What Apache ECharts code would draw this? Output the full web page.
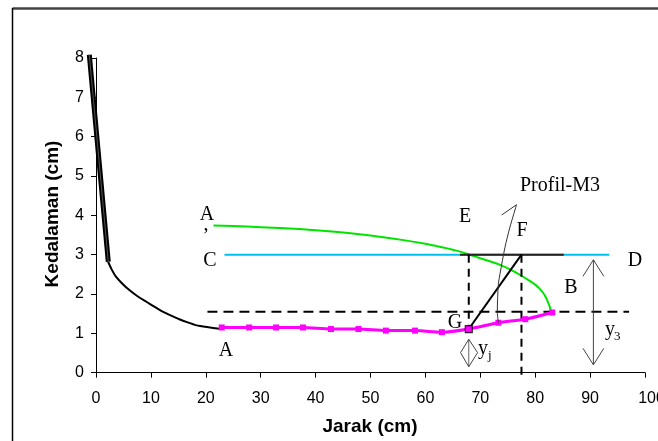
<!DOCTYPE html>
<html><head><meta charset="utf-8">
<script src="https://cdn.jsdelivr.net/npm/echarts@6/dist/echarts.min.js"></script>
<style>html,body{margin:0;padding:0;background:#fff}#c{width:658px;height:441px}</style>
</head><body><div id="c"></div>
<script>
// ---- data ----
const xTicks = [0, 10, 20, 30, 40, 50, 60, 70, 80, 90, 100];
const yTicks = [0, 1, 2, 3, 4, 5, 6, 7, 8];
const wallLine = [[-1.22, 8.08], [2.24, 2.82]];
const upstreamCurve = [[2.2, 2.82], [2.8, 2.64], [3.64, 2.44], [4.8, 2.26], [6.07, 2.10], [7.5, 1.95], [9.11, 1.81], [10.6, 1.68], [12.15, 1.55], [13.7, 1.45], [15.17, 1.36], [16.7, 1.28], [18.2, 1.21], [20.2, 1.16], [22.4, 1.12], [22.9, 1.13]];
const profilX = [22.9, 27.9, 32.8, 37.7, 42.8, 47.8, 52.8, 58.1, 63.0, 67.9, 73.3, 78.2, 83.1];
const profilY = [1.15, 1.15, 1.15, 1.15, 1.11, 1.11, 1.07, 1.07, 1.03, 1.11, 1.27, 1.36, 1.53];
const greenX = [21.4, 25, 30, 37, 43, 48, 52, 56, 60, 62, 64, 66, 67.2, 68.5, 70, 72, 73.6, 75.5, 77.2, 78.5, 79.7, 80.7, 81.5, 82, 82.4, 82.7, 82.8];
const greenY = [3.74, 3.73, 3.70, 3.65, 3.59, 3.52, 3.45, 3.37, 3.28, 3.22, 3.16, 3.09, 3.04, 2.98, 2.91, 2.82, 2.74, 2.62, 2.49, 2.38, 2.27, 2.15, 2.02, 1.90, 1.77, 1.66, 1.58];
const lineCD = [[23.4, 3.0], [93.5, 3.0]];
const lineEF = [[66.3, 3.0], [85.2, 3.0]];
const dashedY = [[20.3, 1.55], [97.1, 1.55]];
const dashE = [[67.9, 3.0], [67.9, 1.11]];
const dashF = [[77.5, 3.0], [77.5, -0.06]];
const lineGF = [[67.9, 1.11], [77.5, 3.0]];
const pointG = [[67.9, 1.11]];
const profilArrow = [[73.3, 1.27], [73.1, 1.55], [73.3, 2.26], [73.6, 2.52], [74.5, 3.19], [75.4, 3.70], [76.6, 4.27]];
const profilArrowHead = [[76.6, 4.27], [73.9, 4.01]];
const y3Shaft = [[90.6, 2.87], [90.6, 0.2]];
const y3HeadTop = [[88.7, 2.45], [90.6, 2.87], [92.5, 2.45]];
const y3HeadBottom = [[88.7, 0.62], [90.6, 0.2], [92.5, 0.62]];
const yjShaft = [[67.9, 0.85], [67.9, 0.15]];
const yjDiamond = [[67.9, 0.85], [66.4, 0.51], [67.9, 0.15], [69.5, 0.51], [67.9, 0.85]];
const labels = [
  {t: 'A', x: 207, y: 215}, {t: ',', x: 206, y: 225}, {t: 'C', x: 210, y: 261},
  {t: 'A', x: 226, y: 351}, {t: 'E', x: 465, y: 217}, {t: 'F', x: 522, y: 231},
  {t: 'Profil-M3', x: 560, y: 186}, {t: 'D', x: 635, y: 261}, {t: 'B', x: 571, y: 288},
  {t: 'G', x: 455, y: 323}
];

const zip = (xs, ys) => xs.map((x, i) => [x, ys[i]]);
const serif = '"Liberation Serif", "Times New Roman", serif';
const sans = '"Liberation Sans", Arial, sans-serif';

function seg(data, color, width, opts) {
  return Object.assign({
    type: 'line', data: data, showSymbol: false, symbol: 'none', clip: false,
    lineStyle: {color: color, width: width}, silent: true, animation: false
  }, opts || {});
}

const chart = echarts.init(document.getElementById('c'), null, {renderer: 'canvas'});
const graphics = [
  {type: 'line', shape: {x1: 12.5, y1: 8.5, x2: 700, y2: 8.5}, style: {stroke: '#444', lineWidth: 2.5}},
  {type: 'line', shape: {x1: 12.5, y1: 8, x2: 12.5, y2: 460}, style: {stroke: '#000', lineWidth: 1.5}},
  {type: 'text', x: 370, y: 427, style: {text: 'Jarak (cm)', font: 'bold 19px ' + sans, fill: '#000', align: 'center', verticalAlign: 'middle'}},
  {type: 'text', x: 53, y: 214, rotation: Math.PI / 2, style: {text: 'Kedalaman (cm)', font: 'bold 19px ' + sans, fill: '#000', align: 'center', verticalAlign: 'middle'}},
  {type: 'text', x: 605, y: 330, style: {text: 'y', font: '20px ' + serif, fill: '#000', align: 'left', verticalAlign: 'middle'}},
  {type: 'text', x: 614, y: 337, style: {text: '3', font: '13px ' + serif, fill: '#000', align: 'left', verticalAlign: 'middle'}},
  {type: 'text', x: 478, y: 349, style: {text: 'y', font: '20px ' + serif, fill: '#000', align: 'left', verticalAlign: 'middle'}},
  {type: 'text', x: 488, y: 356, style: {text: 'j', font: '13px ' + serif, fill: '#000', align: 'left', verticalAlign: 'middle'}}
].concat(labels.map(l => ({
  type: 'text', x: l.x, y: l.y,
  style: {text: l.t, font: '20px ' + serif, fill: '#000', align: 'center', verticalAlign: 'middle'}
})));

chart.setOption({
  animation: false,
  backgroundColor: '#fff',
  grid: {left: 96, right: 13, top: 58, bottom: 68.3, containLabel: false, outerBoundsMode: 'none'},
  xAxis: {
    type: 'value', min: xTicks[0], max: xTicks[xTicks.length - 1], interval: 10,
    axisLine: {show: true, onZero: false, lineStyle: {color: '#000', width: 1}},
    axisTick: {show: true, length: 5, lineStyle: {color: '#000'}},
    axisLabel: {
      color: '#000', fontSize: 16, fontFamily: sans, margin: 18, hideOverlap: false,
      formatter: v => v === 100 ? '{m|100}' : String(v),
      rich: {m: {fontSize: 16, fontFamily: sans, color: '#000', padding: [0, 0, 0, 13]}}
    },
    splitLine: {show: false}
  },
  yAxis: {
    type: 'value', min: yTicks[0], max: yTicks[yTicks.length - 1], interval: 1,
    axisLine: {show: true, onZero: false, lineStyle: {color: '#000', width: 1}},
    axisTick: {show: true, length: 5, lineStyle: {color: '#000'}},
    axisLabel: {color: '#000', fontSize: 16, fontFamily: sans, margin: 12},
    splitLine: {show: false}
  },
  graphic: graphics,
  series: [
    seg(lineCD, '#00c0f0', 2, {z: 2}),
    seg(dashedY, '#000', 2, {z: 3, lineStyle: {color: '#000', width: 2, type: [10, 6]}}),
    seg(zip(greenX, greenY), '#00e400', 2, {z: 3, smooth: 0.15}),
    seg(lineEF, '#222', 2, {z: 4}),
    seg(dashE, '#000', 2, {z: 4, lineStyle: {color: '#000', width: 2, type: [8, 6]}}),
    seg(dashF, '#000', 2, {z: 4, lineStyle: {color: '#000', width: 2, type: [8, 6]}}),
    seg(lineGF, '#000', 2, {z: 5}),
    seg(upstreamCurve, '#000', 2, {z: 5, smooth: 0.15}),
    {
      type: 'line', data: zip(profilX, profilY), smooth: 0.25, clip: false, animation: false, silent: true,
      symbol: 'rect', symbolSize: 6, showSymbol: true,
      lineStyle: {color: '#ff00ff', width: 3}, itemStyle: {color: '#ff00ff'}, z: 6
    },
    {
      type: 'scatter', data: pointG, symbol: 'rect', symbolSize: 7, clip: false, silent: true, animation: false,
      itemStyle: {color: '#ff00ff', borderColor: '#000', borderWidth: 1.2}, z: 7
    },
    seg(profilArrow, '#333', 1, {z: 7, smooth: 0.3}),
    seg(profilArrowHead, '#333', 1, {z: 7}),
    seg(y3Shaft, '#444', 1, {z: 7}),
    seg(y3HeadTop, '#444', 1, {z: 7}),
    seg(y3HeadBottom, '#444', 1, {z: 7}),
    seg(yjShaft, '#666', 1, {z: 7}),
    seg(yjDiamond, '#444', 1, {z: 7})
  ]
});

// wall line extends left of x = 0, so draw it through the chart's own coordinate conversion
const wallPts = wallLine.map(p => chart.convertToPixel({gridIndex: 0}, p));
chart.setOption({
  graphic: graphics.concat([
    {type: 'polyline', z: 100, shape: {points: wallPts}, style: {stroke: '#000', lineWidth: 5, fill: null, lineCap: 'butt'}},
    {type: 'polyline', z: 101, shape: {points: wallPts}, style: {stroke: '#777', lineWidth: 0.7, fill: null}}
  ])
});
</script>
</body></html>
